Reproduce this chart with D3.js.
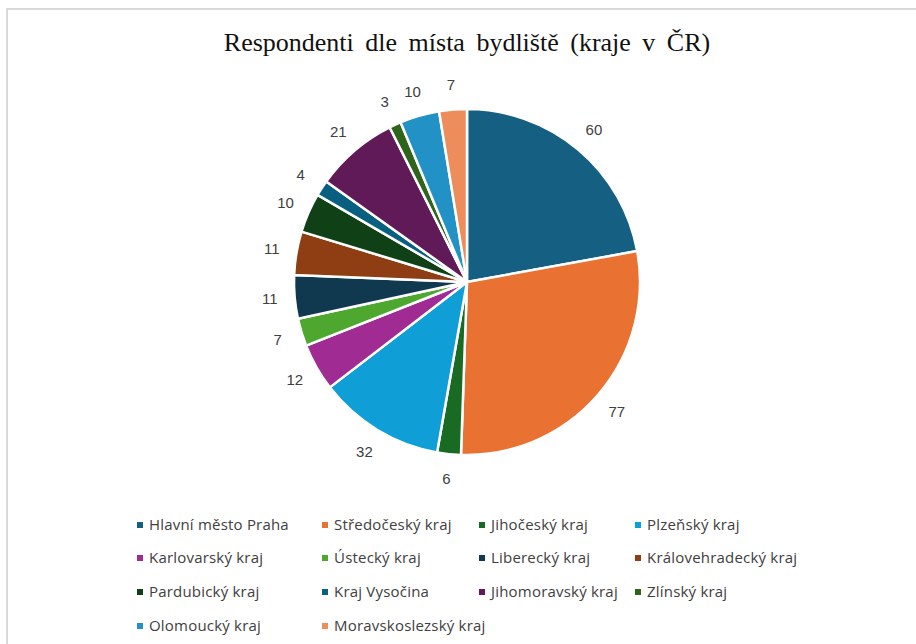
<!DOCTYPE html>
<html><head><meta charset="utf-8">
<script src="https://cdn.jsdelivr.net/npm/d3@7"></script>
<style>body{margin:0;background:#fff}svg{display:block}</style>
</head><body>
<svg id="c" width="916" height="644"></svg>
<script>
const categories = ["Hlavní město Praha","Středočeský kraj","Jihočeský kraj","Plzeňský kraj","Karlovarský kraj","Ústecký kraj","Liberecký kraj","Královehradecký kraj","Pardubický kraj","Kraj Vysočina","Jihomoravský kraj","Zlínský kraj","Olomoucký kraj","Moravskoslezský kraj"];
const values = [60,77,6,32,12,7,11,11,10,4,21,3,10,7];
const colors = ["#156082","#E97132","#196B24","#0F9ED5","#A02B93","#4EA72E","#10384F","#8E3E12","#0F4016","#095F80","#601A58","#2F641C","#2291C6","#EE8D5C"];
const title = "Respondenti dle místa bydliště (kraje v ČR)";

const svg = d3.select("#c");
svg.append("rect").attr("x",7).attr("y",9).attr("width",940).attr("height",680)
  .attr("fill","#fff").attr("stroke","#d9d9d9").attr("stroke-width",2);

svg.append("text").attr("x",467).attr("y",51).attr("text-anchor","middle")
  .attr("font-family","'Liberation Serif','Times New Roman',serif").attr("font-size",26)
  .attr("word-spacing",5).attr("fill","#111").text(title);

const cx = 467, cy = 282, R = 173;
const pie = d3.pie().sort(null).value(d=>d)(values);
const arc = d3.arc().innerRadius(0).outerRadius(R);
const labelArc = d3.arc().innerRadius(198).outerRadius(198);
const g = svg.append("g").attr("transform",`translate(${cx},${cy})`);
g.selectAll("path").data(pie).join("path").attr("d",arc)
  .attr("fill",(d,i)=>colors[i]).attr("stroke","#fff").attr("stroke-width",2.5).attr("stroke-linejoin","round");
g.selectAll("text").data(pie).join("text")
  .attr("transform",d=>`translate(${labelArc.centroid(d)})`)
  .attr("text-anchor","middle").attr("dy","0.35em")
  .attr("font-family","'Liberation Sans',Arial,sans-serif").attr("font-size",15)
  .attr("fill","#404040").text(d=>d.data);

const colX = [137,322,479,635], rowY = [525,558,592,626];
const leg = svg.append("g");
categories.forEach((c,i)=>{
  const x = colX[i%4], y = rowY[Math.floor(i/4)];
  leg.append("rect").attr("x",x).attr("y",y-3).attr("width",6).attr("height",6).attr("fill",colors[i]);
  leg.append("text").attr("x",x+12).attr("y",y).attr("dy","0.35em")
    .attr("font-family","'Open Sans','Liberation Sans',sans-serif")
    .attr("font-size",15).attr("letter-spacing",0.2).attr("fill","#404040").text(c);
});
</script>
</body></html>
